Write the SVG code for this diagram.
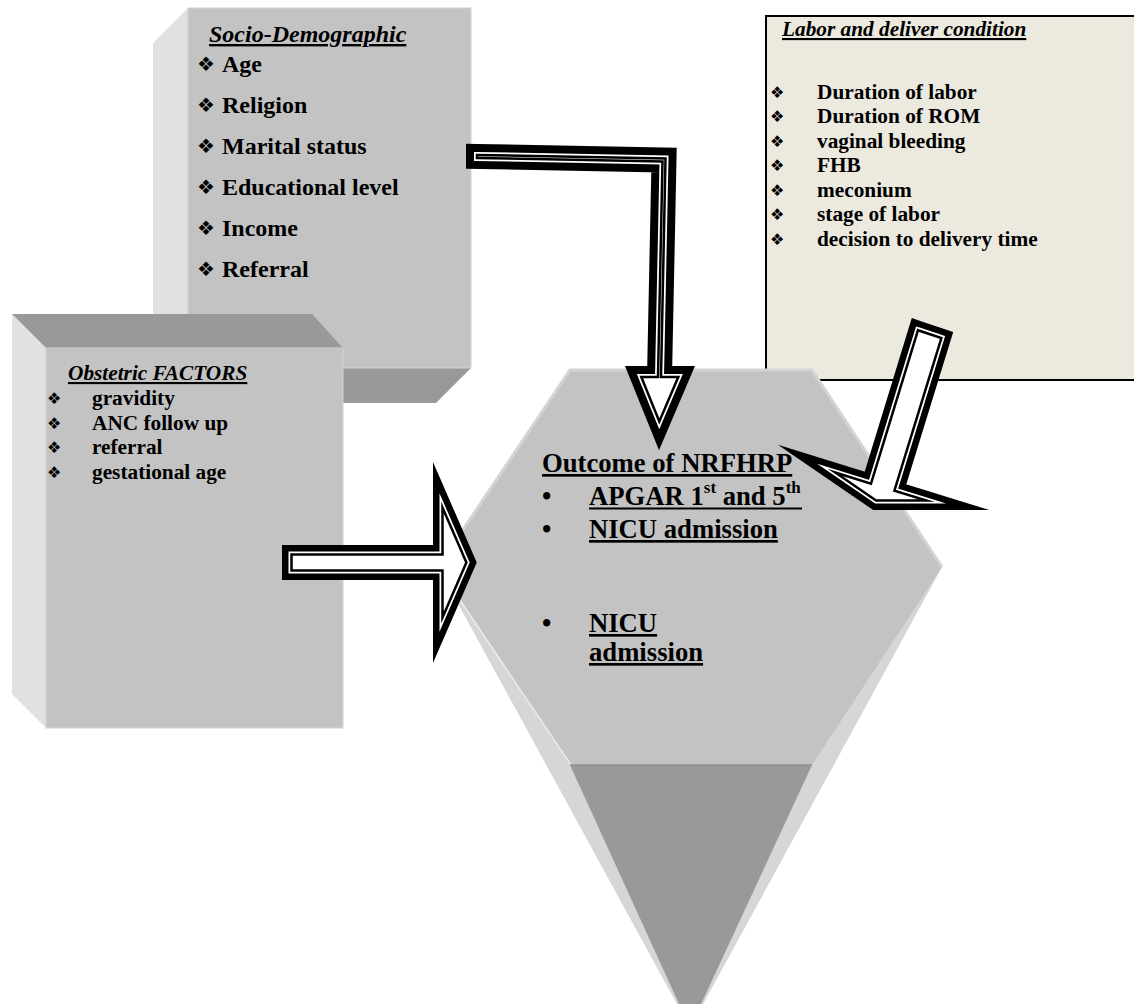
<svg xmlns="http://www.w3.org/2000/svg" width="1134" height="1004" viewBox="0 0 1134 1004">
<style>
text{font-family:"Liberation Serif","Times New Roman",serif;font-weight:bold;fill:#000}
.h24{font-size:24px;font-style:italic;text-decoration:underline}
.h21{font-size:21.3px;font-style:italic;text-decoration:underline}
.t24{font-size:24px}
.t21{font-size:21.3px}
.t26{font-size:26.67px}
.u{text-decoration:underline}
.bul{font-family:"DejaVu Sans",sans-serif;font-weight:normal}
.b20{font-size:20px}
.b16{font-size:16px}
.front{fill:#c3c3c3}
.side{fill:#e1e1e1}
.dark{fill:#999999}
.o1{fill:#fff;stroke:#000;stroke-width:19;stroke-linejoin:miter;stroke-miterlimit:12}
.s1{fill:#fff;stroke:#000;stroke-width:22;stroke-linejoin:miter;stroke-miterlimit:12}
.o2{fill:#fff;stroke:#fff;stroke-width:6;stroke-linejoin:miter;stroke-miterlimit:12}
.o3{fill:none;stroke:#000;stroke-width:2.5;stroke-linejoin:miter;stroke-miterlimit:12}
</style>
<defs>
<polygon id="pSoc" points="477,155 665.5,158.5 661,377 678.3,377 659.3,421.5 641.3,377 658,377 662.5,161.5 477,158"/>
<polygon id="pObs" points="291.5,554.5 442.5,554.5 442.5,507.6 466.4,562.5 442.5,617.4 442.5,570.5 291.5,570.5"/>
<polygon id="pLab" points="918,330.2 941.4,338 894.4,490.6 926.4,500.5 876.1,500.5 835.2,472.5 871,483.6"/>
</defs>

<g id="socio">
<polygon class="side" points="188,8 153,43 153,403 188,368"/>
<polygon class="dark" points="188,368 471,368 436,403 153,403"/>
<rect class="front" x="188" y="8" width="283" height="360" stroke="#d2d2d2" stroke-width="1"/>
<text class="h24" x="209" y="42">Socio-Demographic</text>
<text class="bul b20" x="197" y="71">❖</text><text class="t24" x="222" y="72">Age</text>
<text class="bul b20" x="197" y="112">❖</text><text class="t24" x="222" y="113">Religion</text>
<text class="bul b20" x="197" y="153">❖</text><text class="t24" x="222" y="154">Marital status</text>
<text class="bul b20" x="197" y="194">❖</text><text class="t24" x="222" y="195">Educational level</text>
<text class="bul b20" x="197" y="235">❖</text><text class="t24" x="222" y="236">Income</text>
<text class="bul b20" x="197" y="276">❖</text><text class="t24" x="222" y="277">Referral</text>
</g>

<g id="obstetric">
<polygon class="side" points="12,314 46,348 46,728 12,694"/>
<polygon class="dark" points="12,314 312,314 343,348 46,348"/>
<rect class="front" x="46" y="348" width="297" height="380" stroke="#d2d2d2" stroke-width="1"/>
<text class="h21" x="68" y="380">Obstetric FACTORS</text>
<text class="bul b16" x="47" y="404">❖</text><text class="t21" x="92" y="405">gravidity</text>
<text class="bul b16" x="47" y="428.5">❖</text><text class="t21" x="92" y="429.5">ANC follow up</text>
<text class="bul b16" x="47" y="453">❖</text><text class="t21" x="92" y="454">referral</text>
<text class="bul b16" x="47" y="477.5">❖</text><text class="t21" x="92" y="478.5">gestational age</text>
</g>

<g id="labor">
<rect x="766" y="16" width="380" height="364" fill="#ece9df" stroke="#000" stroke-width="2"/>
<text class="h21" x="782" y="36">Labor and deliver condition</text>
<text class="bul b16" x="770" y="97.5">❖</text><text class="t21" x="817" y="98.5">Duration of labor</text>
<text class="bul b16" x="770" y="122">❖</text><text class="t21" x="817" y="123">Duration of ROM</text>
<text class="bul b16" x="770" y="146.5">❖</text><text class="t21" x="817" y="147.5">vaginal bleeding</text>
<text class="bul b16" x="770" y="171">❖</text><text class="t21" x="817" y="172">FHB</text>
<text class="bul b16" x="770" y="195.5">❖</text><text class="t21" x="817" y="196.5">meconium</text>
<text class="bul b16" x="770" y="220">❖</text><text class="t21" x="817" y="221">stage of labor</text>
<text class="bul b16" x="770" y="244.5">❖</text><text class="t21" x="817" y="245.5">decision to delivery time</text>
</g>

<g id="outcome">
<polygon fill="#d6d6d6" points="570,370 812,370 942,567 690,1028 438,567"/>
<polygon class="front" points="570,370 812,370 942,567 812,765 570,765 438,567"/>
<polyline fill="none" stroke="#d4d4d4" stroke-width="3" points="438,567 570,370 812,370 942,567"/>
<line x1="441" y1="572" x2="571" y2="765" stroke="#ececec" stroke-width="1.5"/>
<polygon class="dark" points="570,765 812,765 690,1028"/>
<line x1="570" y1="765" x2="812" y2="765" stroke="#909090" stroke-width="1.5"/>
<text class="t26 u" x="542" y="472">Outcome of NRFHRP</text>
<text class="t26" x="542" y="505">•</text>
<text class="t26" x="589" y="505">APGAR 1<tspan font-size="17" dy="-12">st</tspan><tspan dy="12"> and 5</tspan><tspan font-size="17" dy="-12">th</tspan></text>
<line x1="589" y1="508.5" x2="802" y2="508.5" stroke="#000" stroke-width="2"/>
<text class="t26" x="542" y="538">•</text>
<text class="t26 u" x="589" y="538">NICU admission</text>
<text class="t26" x="542" y="632">•</text>
<text class="t26 u" x="589" y="632">NICU</text>
<text class="t26 u" x="589" y="661">admission</text>
</g>

<g id="connectors">
<use href="#pSoc" class="s1"/><use href="#pSoc" class="o2"/><use href="#pSoc" class="o3"/>
<use href="#pObs" class="o1"/><use href="#pObs" class="o2"/><use href="#pObs" class="o3"/>
<use href="#pLab" class="o1"/><use href="#pLab" class="o2"/><use href="#pLab" class="o3"/>
</g>
</svg>
